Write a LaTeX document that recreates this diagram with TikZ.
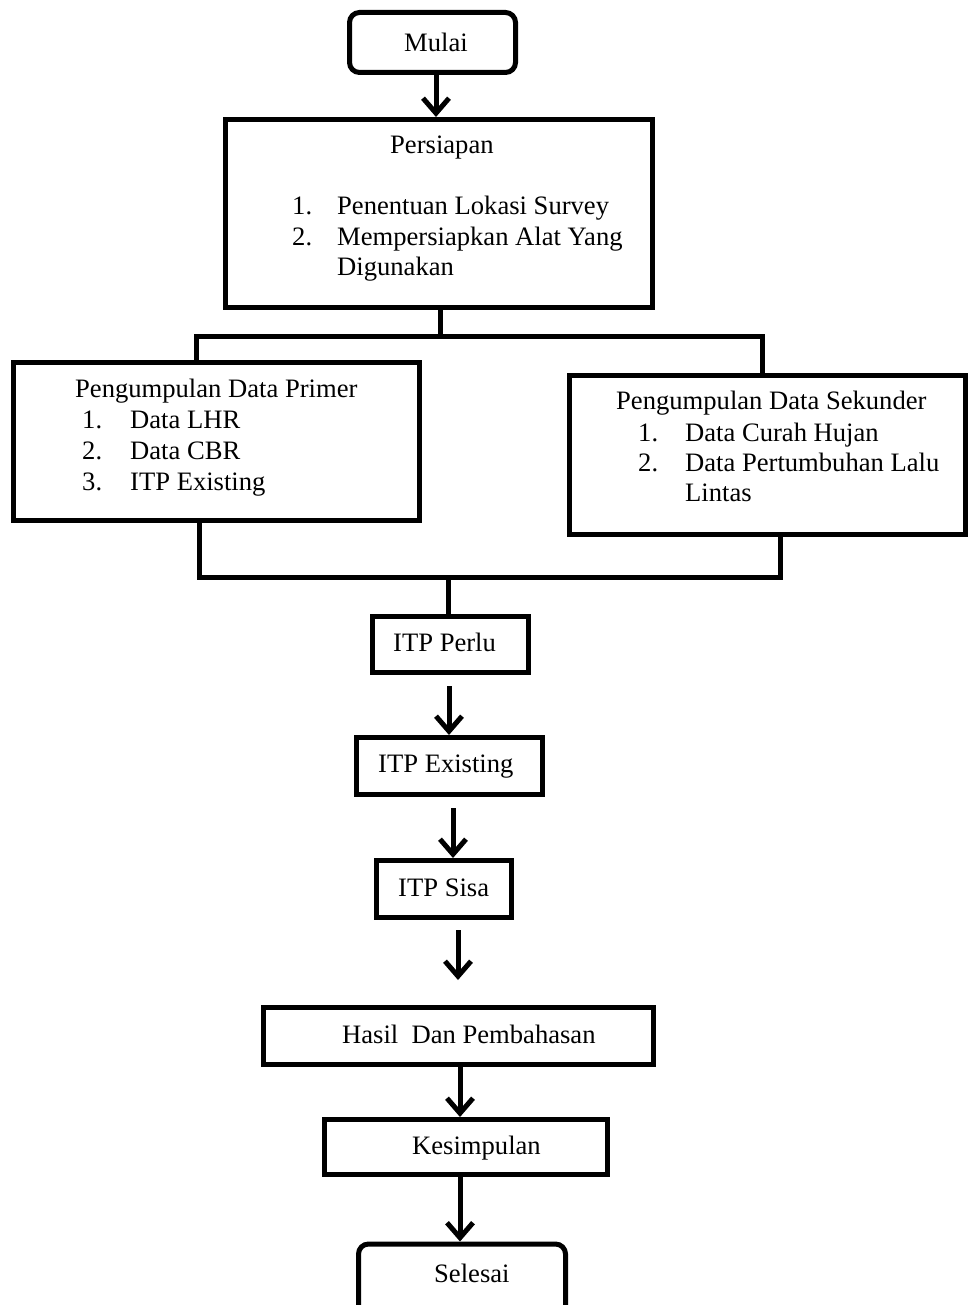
\documentclass[tikz,border=0pt]{standalone}
\usepackage{fontspec}
\setmainfont{Liberation Serif}
\usetikzlibrary{arrows.meta}
\begin{document}
\begin{tikzpicture}[x=1pt,y=-1pt,
  box/.style 2 args={draw, line width=5pt, minimum width=#1pt, minimum height=#2pt, inner sep=0pt},
  rbox/.style 2 args={box={#1}{#2}, rounded corners=10pt},
  txt/.style={anchor=base west, inner sep=0pt, font=\fontsize{26.6}{32}\selectfont},
  conn/.style={line width=5pt, line join=miter},
  arr/.style={line width=5pt, -{Straight Barb[length=15pt,width=26pt]}}]
\useasboundingbox (0,0) rectangle (968,1305);

% boxes
\node[rbox={166}{60}] (mulai) at (432.5,42.5) {};
\node[box={427}{188}] (persiapan) at (439,213.5) {};
\node[box={406}{158}] (primer) at (216.5,441.5) {};
\node[box={396}{159}] (sekunder) at (767,455) {};
\node[box={156}{56}] (perlu) at (450.5,644.5) {};
\node[box={186}{57}] (existing) at (449.5,766) {};
\node[box={135}{57}] (sisa) at (444,889) {};
\node[box={390}{57}] (hasil) at (458.5,1036) {};
\node[box={283}{55}] (kesimpulan) at (466,1147) {};
\node[rbox={207}{90}] (selesai) at (462,1289) {};

% texts
\node[txt] (tmulai) at (404,52) {Mulai};
\node[txt] (tpers) at (390,154) {Persiapan};
\node[txt] (tp1n) at (292,215) {1.};
\node[txt] (tp1) at (337,215) {Penentuan Lokasi Survey};
\node[txt] (tp2n) at (292,246) {2.};
\node[txt] (tp2) at (337,246) {Mempersiapkan Alat Yang};
\node[txt] (tp2b) at (337,276) {Digunakan};

\node[txt] (tprim) at (75,397) {Pengumpulan Data Primer};
\node[txt] (tr1n) at (82,428) {1.};
\node[txt] (tr1) at (130,428) {Data LHR};
\node[txt] (tr2n) at (82,459) {2.};
\node[txt] (tr2) at (130,459) {Data CBR};
\node[txt] (tr3n) at (82,490) {3.};
\node[txt] (tr3) at (130,490) {ITP Existing};

\node[txt] (tsek) at (616,409) {Pengumpulan Data Sekunder};
\node[txt] (ts1n) at (638,441) {1.};
\node[txt] (ts1) at (685,441) {Data Curah Hujan};
\node[txt] (ts2n) at (638,471) {2.};
\node[txt] (ts2) at (685,471) {Data Pertumbuhan Lalu};
\node[txt] (ts2b) at (685,501) {Lintas};

\node[txt] (tperlu) at (393,651) {ITP Perlu};
\node[txt] (texist) at (378,772) {ITP Existing};
\node[txt] (tsisa) at (398,896) {ITP Sisa};
\node[txt] (thasil) at (342,1043) {Hasil\ \ Dan Pembahasan};
\node[txt] (tkes) at (412,1154) {Kesimpulan};
\node[txt] (tsel) at (434,1282) {Selesai};

% helper coordinates
\coordinate (x1) at (436,0);
\coordinate (split) at (440,336);
\coordinate (bl) at (196,336);
\coordinate (br) at (762,336);
\coordinate (ml) at (199,577);
\coordinate (mr) at (780,577);
\coordinate (mc) at (448,577);
\coordinate (x2) at (449,0);
\coordinate (x3) at (453,0);
\coordinate (x4) at (458,0);
\coordinate (x5) at (460,0);

% connectors
\draw[arr] (mulai.south -| x1) -- (persiapan.north -| x1);
\draw[conn] (persiapan.south -| split) -- (split);
\draw[conn] (primer.north -| bl) -- (bl) -- (br) -- (sekunder.north -| br);
\draw[conn] (primer.south -| ml) -- (ml) -- (mr) -- (sekunder.south -| mr);
\draw[conn] (mc) -- (perlu.north -| mc);
\draw[arr, shorten <=11pt] (perlu.south -| x2) -- (existing.north -| x2);
\draw[arr, shorten <=11pt] (existing.south -| x3) -- (sisa.north -| x3);
\draw[arr, shorten <=10pt, shorten >=25pt] (sisa.south -| x4) -- (hasil.north -| x4);
\draw[arr] (hasil.south -| x5) -- (kesimpulan.north -| x5);
\draw[arr] (kesimpulan.south -| x5) -- (selesai.north -| x5);
\end{tikzpicture}
\end{document}
